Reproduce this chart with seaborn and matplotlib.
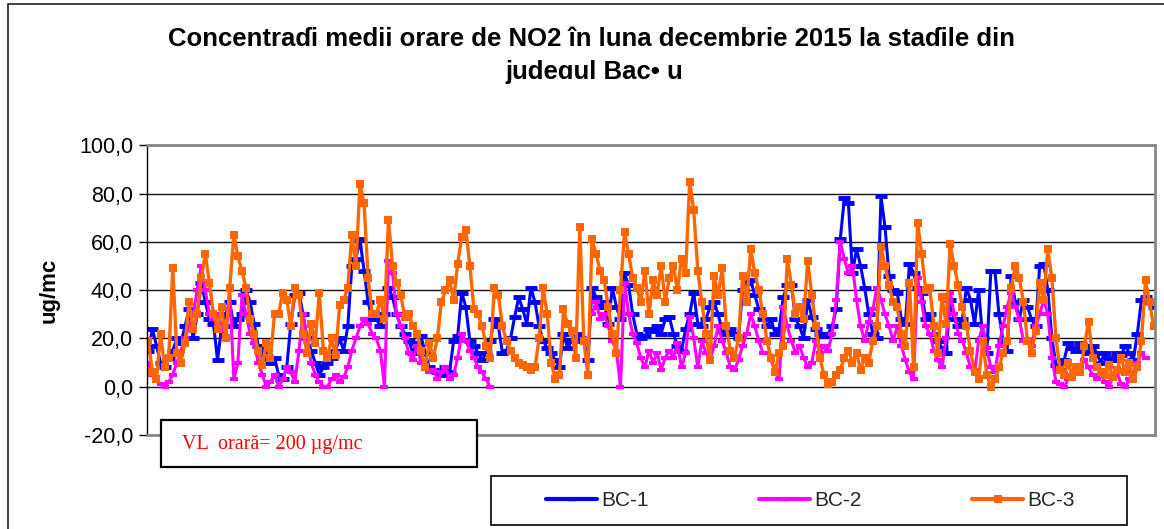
import numpy as np
import pandas as pd
import matplotlib
matplotlib.use("Agg")
import matplotlib.pyplot as plt
from matplotlib.patches import Rectangle
from matplotlib.lines import Line2D
import seaborn as sns

# --- data: NO2 hourly means, read every 3 h (8 values per day, 31 days) ---
stations = ["BC-1", "BC-2", "BC-3"]
y_ticks = [-20, 0, 20, 40, 60, 80, 100]

bc1 = [
    15, 24, 17, 10, 8, 12, 15, 20,   18, 25, 32, 20, 30, 43, 35, 28,
    26, 11, 25, 30, 35, 25, 28, 30,  40, 35, 26, 17, 12, 15, 10, 12,
    5, 3, 8, 26, 38, 39, 30, 20,     15, 10, 5, 8, 10, 12, 15, 20,
    15, 25, 50, 53, 61, 48, 35, 28,  28, 25, 30, 41, 37, 30, 25, 22,
    19, 14, 18, 21, 14, 8, 7, 6,     5, 8, 6, 19, 21, 39, 33, 19,
    17, 14, 11, 14, 19, 28, 25, 14,  15, 20, 29, 37, 32, 26, 41, 35,
    25, 19, 16, 14, 11, 8, 22, 16,   19, 22, 20, 19, 11, 41, 37, 33,
    35, 26, 41, 33, 28, 47, 42, 30,  22, 20, 21, 24, 23, 25, 22, 28,
    29, 22, 17, 15, 24, 30, 39, 26,  25, 28, 33, 35, 30, 23, 22, 24,
    22, 20, 40, 43, 44, 38, 32, 28,  25, 28, 22, 24, 37, 42, 42, 28,
    25, 20, 36, 29, 24, 22, 21, 22,  25, 32, 61, 78, 76, 47, 57, 50,
    41, 30, 22, 20, 79, 66, 46, 40,  39, 28, 26, 51, 47, 41, 39, 28,
    30, 22, 19, 16, 14, 36, 28, 25,  28, 41, 36, 26, 40, 20, 14, 48,
    48, 30, 19, 15, 46, 35, 28, 36,  33, 28, 25, 50, 51, 40, 20, 9,
    7, 11, 18, 16, 15, 18, 17, 14,   17, 14, 10, 14, 12, 11, 14, 13,
    17, 14, 11, 22, 36, 37, 35, 33,
]

na = None
bc2 = [
    10, 5, 3, 1, 0, 2, 5, 10,        15, 20, 25, 30, 40, 50, 40, 30,
    28, 30, 25, 20, 40, 3, 10, 38,   30, 22, 18, 10, 5, 0, 2, 5,
    0, 3, 8, 6, 2, 15, 30, 20,       10, 5, 2, 0, 0, 3, 5, 2,
    4, 8, 15, 20, 25, 28, 26, 22,    20, 15, 0, 52, 47, 30, 25, 20,
    14, 11, 17, 10, 8, 6, 7, 3,      6, 8, 3, 5, 12, 22, 19, 15,
    12, 8, 6, 3, 0, na, na, na,      na, na, na, na, na, na, na, na,
    na, na, na, na, na, na, na, na,  na, na, na, na, na, 30, 35, 28,
    30, 25, 19, 15, 0, 43, 30, 22,   18, 12, 8, 15, 10, 14, 7, 12,
    15, 12, 18, 8, 14, 29, 20, 8,    19, 14, 11, 17, 25, 19, 14, 8,
    7, 11, 17, 22, 30, 25, 19, 14,   14, 11, 6, 3, 33, 25, 19, 14,
    17, 12, 8, 10, 19, 14, 17, 15,   22, 36, 60, 53, 47, 50, 36, 25,
    19, 27, 32, 41, 36, 30, 25, 19,  25, 17, 11, 6, 3, 45, 35, 25,
    22, 15, 11, 8, 20, 39, 30, 22,   19, 14, 8, 6, 19, 25, 16, 8,
    6, 17, 25, 33, 39, 33, 28, 19,   19, 17, 25, 30, 36, 30, 12, 2,
    1, 0, 3, 5, 6, 8, 11, 8,         5, 3, 6, 2, 0, 4, 6, 1,
    0, 3, 6, 10, 14, 12, na, na,
]

bc3 = [
    19, 6, 3, 22, 8, 12, 49, 14,     10, 18, 35, 24, 30, 45, 55, 43,
    30, 24, 33, 20, 41, 63, 54, 48,  41, 28, 22, 15, 9, 18, 12, 30,
    30, 39, 36, 25, 41, 38, 22, 14,  26, 18, 39, 15, 12, 20, 13, 34,
    36, 41, 63, 50, 84, 76, 45, 30,  30, 36, 28, 69, 50, 43, 38, 29,
    30, 25, 22, 15, 8, 18, 12, 20,   35, 40, 44, 36, 51, 62, 65, 50,
    32, 30, 25, 17, 12, 41, 38, 25,  19, 15, 12, 10, 9, 8, 7, 8,
    20, 41, 30, 10, 3, 5, 32, 26,    23, 12, 66, 19, 5, 61, 55, 48,
    44, 33, 22, 14, 40, 64, 55, 45,  41, 35, 48, 30, 44, 38, 50, 35,
    45, 50, 40, 53, 47, 85, 73, 48,  35, 22, 11, 46, 38, 49, 25, 15,
    12, 20, 46, 35, 57, 47, 40, 30,  19, 12, 6, 14, 17, 53, 42, 30,
    33, 28, 52, 38, 25, 12, 5, 1,    2, 5, 7, 12, 15, 10, 14, 7,
    12, 10, 19, 25, 58, 50, 42, 35,  33, 22, 17, 43, 8, 68, 55, 40,
    41, 25, 14, 37, 26, 59, 50, 42,  33, 25, 15, 6, 3, 19, 5, 0,
    3, 8, 14, 19, 41, 50, 45, 35,    19, 14, 23, 43, 36, 57, 45, 20,
    7, 5, 10, 4, 8, 6, 17, 27,       12, 8, 6, 5, 9, 4, 7, 12,
    6, 10, 3, 8, 19, 44, 35, 25,
]

styles = {
    "BC-1": dict(color="#0000ff", lw=2.2, marker="_", ms=8, mew=3.5),
    "BC-2": dict(color="#ff00ff", lw=2.2, marker="_", ms=6, mew=3.0),
    "BC-3": dict(color="#ff6600", lw=2.4, marker="s", ms=5.5, mew=0.0),
}

# long-form table; a new segment starts after every gap so lines break there
hours = np.arange(len(bc1)) * 3
frames = []
for name, vals in zip(stations, [bc1, bc2, bc3]):
    v = pd.Series(vals, dtype=float)
    frames.append(pd.DataFrame({"ora": hours, "valoare": v, "statie": name,
                                "segment": v.isna().cumsum()}).dropna())
df = pd.concat(frames, ignore_index=True)

sns.set_theme(style="white")
plt.rcParams["font.family"] = ["Liberation Sans", "DejaVu Sans"]

W, H = 1164, 529
fig = plt.figure(figsize=(W / 100, H / 100), dpi=100)

# outer chart frame
fig.add_artist(Rectangle((8 / W, -0.1), 1.2, 1.1 - 4 / H, transform=fig.transFigure,
                         fill=False, ec="#222222", lw=1.2))

ax = fig.add_axes([147 / W, 1 - 435 / H, (1155 - 147) / W, (435 - 145.3) / H])

for name in stations:
    st = styles[name]
    sns.lineplot(data=df[df["statie"] == name], x="ora", y="valoare", units="segment",
                 estimator=None, color=st["color"], lw=st["lw"], marker=st["marker"],
                 markersize=st["ms"], markeredgewidth=st["mew"],
                 markeredgecolor=st["color"], legend=False, ax=ax)

ax.set_xlim(-1, hours[-1] + 1)
ax.set_ylim(-20, 100)
ax.set_xticks([])
ax.set_xlabel("")
ax.set_yticks(y_ticks)
ax.set_yticklabels([f"{t:.1f}".replace(".", ",") for t in y_ticks])
ax.tick_params(axis="y", left=True, direction="out", length=6, width=1,
               color="black", labelsize=15.5, labelcolor="black", pad=4)
ax.yaxis.grid(True, color="#111111", lw=1)
ax.set_axisbelow(True)
for side in ["top", "right", "bottom"]:
    ax.spines[side].set_color("#888888")
    ax.spines[side].set_linewidth(2)
ax.spines["left"].set_color("black")
ax.spines["left"].set_linewidth(1)

ax.set_ylabel("ug/mc", fontsize=16, fontweight="bold", color="black")
ax.yaxis.set_label_coords(-0.087, 0.5)

# title (kept with the glyphs as they appear in the original)
fig.text(592 / W, 1 - 45.5 / H,
         "Concentraɗi medii orare de NO2 în luna decembrie 2015 la staɗile din",
         ha="center", va="baseline", fontsize=18.5, fontweight="bold", color="black")
fig.text(594 / W, 1 - 79 / H, "judeɑul Bac• u",
         ha="center", va="baseline", fontsize=18.5, fontweight="bold", color="black")

# limit-value note box
fig.add_artist(Rectangle((161 / W, 1 - 467 / H), 316 / W, 47 / H, transform=fig.transFigure,
                         fc="white", ec="black", lw=1.6, zorder=5))
fig.text(182 / W, 1 - 449 / H, "VL  orară= 200 µg/mc", color="#ff0000",
         fontsize=14.5, family=["Liberation Serif", "DejaVu Serif"], va="baseline", zorder=6)

# legend, framed by hand
fig.add_artist(Rectangle((491 / W, 1 - 525 / H), 636 / W, 49 / H, transform=fig.transFigure,
                         fc="white", ec="black", lw=1.2, zorder=5))
handles = [Line2D([], [], color=styles[n]["color"], lw=3, marker=styles[n]["marker"],
                  ms=6, mew=2.5 if n != "BC-3" else 0, mec=styles[n]["color"])
           for n in stations]
leg = fig.legend(handles, stations, loc="center left", bbox_to_anchor=(546 / W, 1 - 500.5 / H),
                 ncol=3, frameon=False, fontsize=15, handlelength=2.45, handletextpad=0.2,
                 columnspacing=5.3, borderpad=0, borderaxespad=0, numpoints=1)
leg.set_zorder(6)

fig.savefig("out.png", dpi=100)
